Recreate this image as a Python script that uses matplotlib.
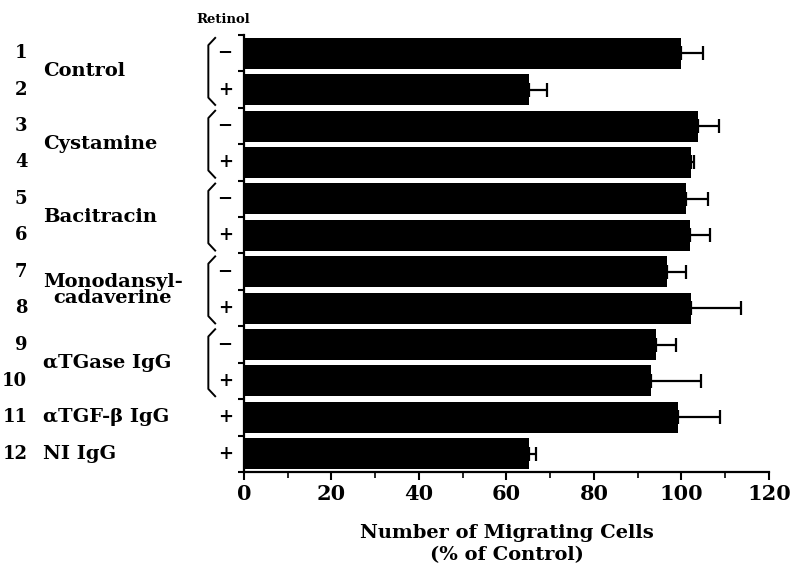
import matplotlib.pyplot as plt
import numpy as np
from matplotlib.transforms import blended_transform_factory

# migration assay, % of control (mean + SE)
rows = list(range(1, 13))
values = [99.9, 65.2, 103.7, 102.3, 101.0, 101.9, 96.6, 102.3, 94.3, 93.0, 99.3, 65.2]
errors = [5.1, 4.1, 4.8, 0.5, 5.1, 4.6, 4.4, 11.3, 4.4, 11.6, 9.5, 1.5]
retinol = ['−', '+', '−', '+', '−', '+', '−', '+', '−', '+', '+', '+']
groups = ['Control', 'Cystamine', 'Bacitracin', 'Monodansyl-\ncadaverine',
          'αTGase IgG', 'αTGF-β IgG', 'NI IgG']
group_rows = [(1, 2), (3, 4), (5, 6), (7, 8), (9, 10), (11,), (12,)]

plt.rcParams['font.family'] = ['DejaVu Serif']
plt.rcParams['font.weight'] = 'bold'

fig = plt.figure(figsize=(7.91, 5.69), dpi=100)
ax = fig.add_axes([0.3085, 0.1705, 0.6635, 0.768])

y = np.array(rows)
ax.barh(y, values, height=0.85, color='black')
ax.errorbar(values, y, xerr=[np.zeros(len(errors)), errors], fmt='none',
            ecolor='black', elinewidth=1.6, capsize=5, capthick=1.6)

ax.set_xlim(0, 120)
ax.set_ylim(12.5, 0.5)
ax.set_xticks(range(0, 121, 20))
ax.set_xticks(range(10, 120, 20), minor=True)
ax.tick_params(axis='x', which='major', length=6, width=1.5, labelsize=15, pad=3)
ax.tick_params(axis='x', which='minor', length=4, width=1.2)
ax.set_yticks(np.arange(0.5, 13, 1))
ax.set_yticklabels([])
ax.tick_params(axis='y', length=4, width=1.5)
for lab in ax.get_xticklabels():
    lab.set_fontweight('bold')
for s in ['top', 'right']:
    ax.spines[s].set_visible(False)
for s in ['left', 'bottom']:
    ax.spines[s].set_linewidth(1.6)

ax.set_xlabel('Number of Migrating Cells\n(% of Control)', fontsize=14,
              fontweight='bold', labelpad=14, linespacing=1.3)

tr = blended_transform_factory(ax.transAxes, ax.transData)

# row numbers and retinol signs
for r, sign in zip(rows, retinol):
    ax.text(-0.413, r, str(r), transform=tr, ha='right', va='center',
            fontsize=13, fontweight='bold')
    ax.text(-0.036, r, sign, transform=tr, ha='center', va='center',
            fontsize=13, fontweight='bold')

# treatment names
for name, rr in zip(groups, group_rows):
    yc = np.mean(rr)
    ax.text(-0.383, yc, name, transform=tr, ha='left', va='center',
            fontsize=14, fontweight='bold', multialignment='center',
            linespacing=0.8)

# brackets around each -/+ pair
for rr in group_rows:
    if len(rr) < 2:
        continue
    top, bot = rr[0] - 0.42, rr[1] + 0.42
    xb, xh = -0.068, -0.055
    ax.plot([xh, xb, xb, xh], [top, top + 0.2, bot - 0.2, bot],
            transform=tr, color='black', lw=1.4, clip_on=False,
            solid_joinstyle='round')

ax.text(-0.04, 1.035, 'Retinol', transform=ax.transAxes, ha='center',
        va='center', fontsize=9.5, fontweight='bold')

fig.savefig('out.png', dpi=100)
